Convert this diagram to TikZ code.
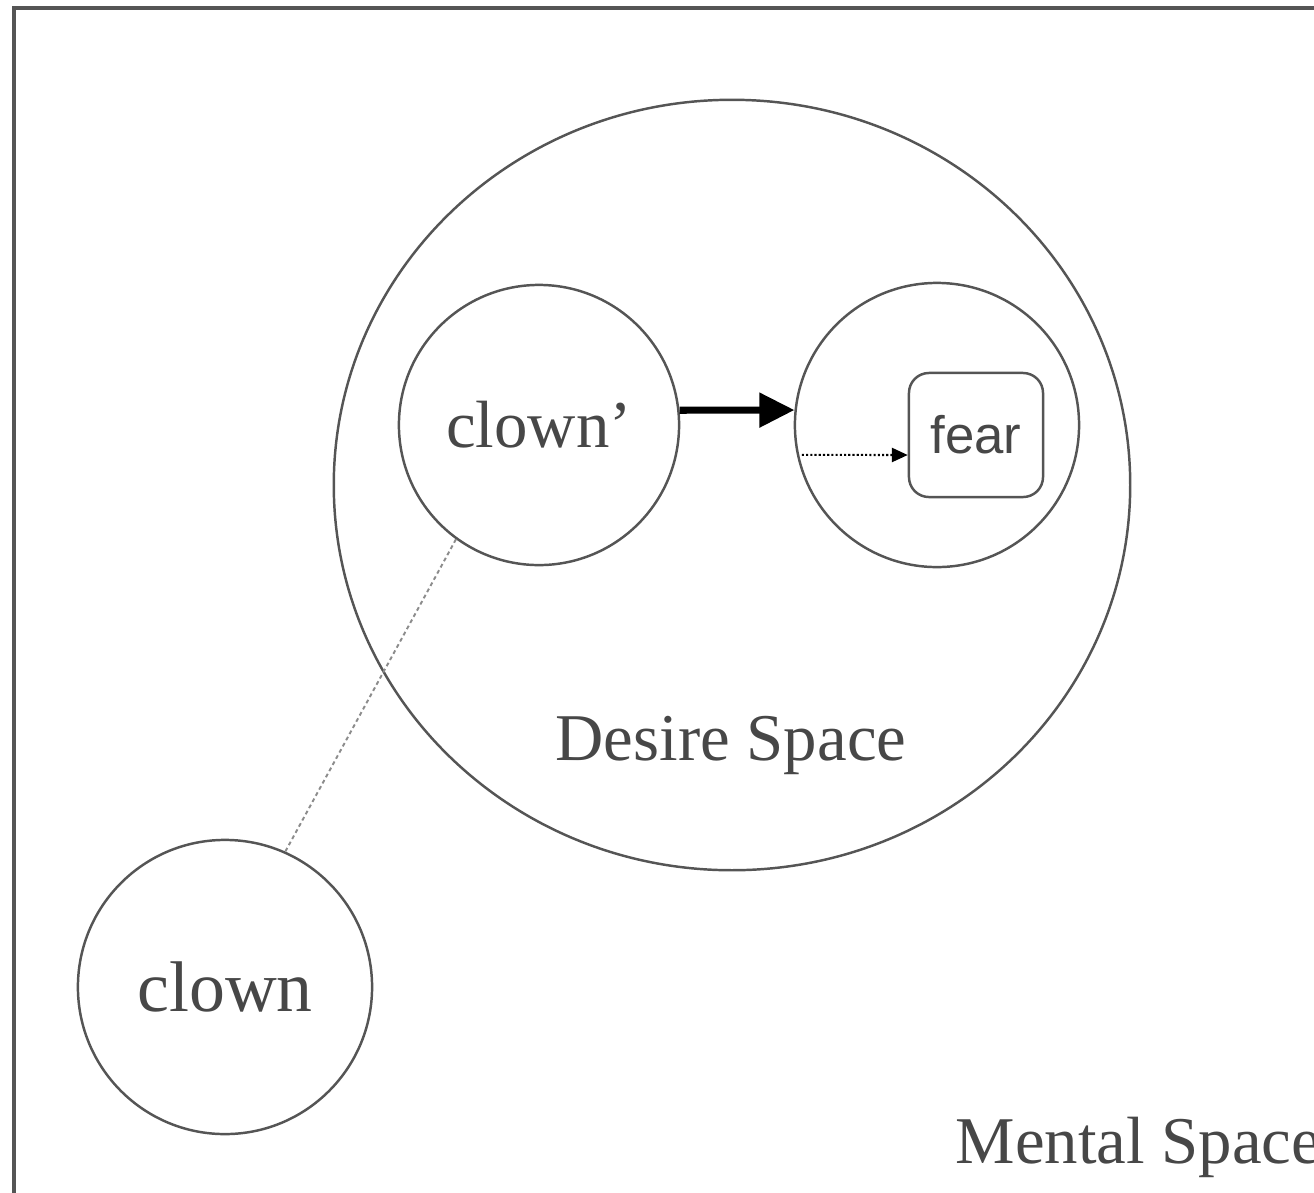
\documentclass[tikz,border=0pt]{standalone}
\usepackage{fontspec}
\setmainfont{Liberation Serif}
\newfontfamily\fearfont{Liberation Sans}
\usetikzlibrary{arrows.meta, shapes.geometric}
\definecolor{ink}{HTML}{555555}
\definecolor{txt}{HTML}{474747}
\definecolor{link}{HTML}{8c8c8c}

\begin{document}
\begin{tikzpicture}[
  x=0.01cm, y=-0.01cm,
  space/.style={circle, draw=ink, line width=0.7pt, inner sep=0pt,
                minimum size=2.8cm, text=txt, font=\fontsize{19}{22}\selectfont},
  bigspace/.style={ellipse, draw=ink, line width=0.7pt, inner sep=0pt,
                   minimum width=7.96cm, minimum height=7.7cm},
  item/.style={rectangle, rounded corners=0.2cm, draw=ink, line width=0.7pt,
               minimum width=1.34cm, minimum height=1.24cm, inner sep=0pt,
               text=txt, font=\fearfont\fontsize{15}{18}\selectfont},
  lbl/.style={text=txt, font=\fontsize{19}{22}\selectfont, inner sep=0pt},
  bigarr/.style={-{Triangle[length=10pt, width=9.5pt]}, line width=2pt, black},
  dotarr/.style={-{Triangle[length=4.5pt, width=4pt]}, line width=0.6pt,
                 dash pattern=on 0.6pt off 0.6pt, black},
  tie/.style={link, line width=0.55pt, dash pattern=on 1.1pt off 0.9pt},
]
\useasboundingbox (0,0) rectangle (1314,1193);
\clip (0,0) rectangle (1314,1193);

%% Mental space frame
\draw[ink, line width=0.9pt] (14,8) rectangle (1400,1260);
\node[lbl, anchor=base west] (mslbl) at (955,1163) {Mental Space};

%% Desire space
\node[bigspace] (ds) at (732,485) {};
\node[lbl] (dslbl) at (731,745) {Desire Space};

%% Inner spaces
\node[space] (cp) at (539,425) {clown’};
\node[space, minimum size=2.84cm] (rc) at (937,425) {};
\node[item] (fear) at (976,435) {fear};

%% Outside
\node[space, minimum size=2.94cm, font=\fontsize{20.4}{24}\selectfont] (cl) at (225,987) {clown};

%% Arrows
\draw[bigarr] (cp.6) -- (rc.174);
\draw[dotarr] ([xshift=0.05cm]rc.192) -- ([yshift=-0.2cm]fear.west);
\draw[tie] (cp.234) -- (cl.66);

\end{tikzpicture}
\end{document}
